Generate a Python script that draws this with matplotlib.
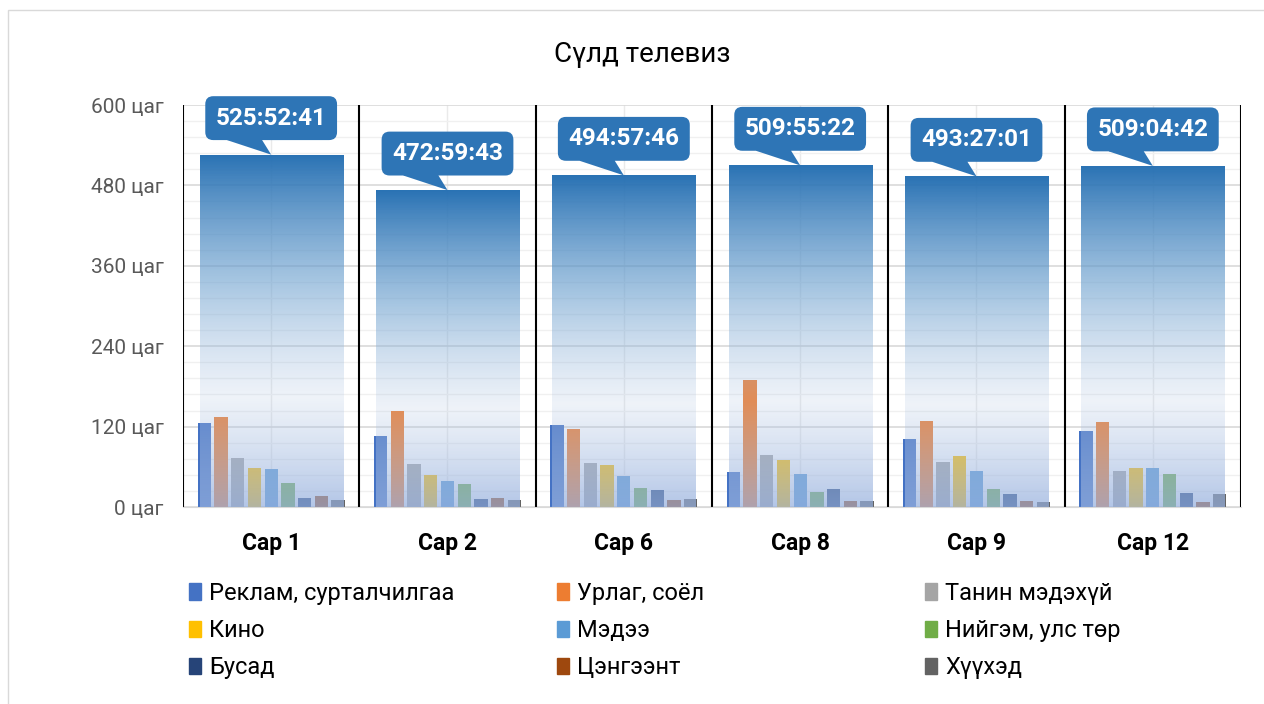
import matplotlib.pyplot as plt
import matplotlib.patches as mpatches
import matplotlib.transforms as mtransforms
import numpy as np

plt.rcParams['font.family'] = ['Roboto', 'DejaVu Sans']

months = ['Сар 1', 'Сар 2', 'Сар 6', 'Сар 8', 'Сар 9', 'Сар 12']
total_labels = ['525:52:41', '472:59:43', '494:57:46', '509:55:22', '493:27:01', '509:04:42']

series_names = ['Реклам, сурталчилгаа', 'Урлаг, соёл', 'Танин мэдэхүй', 'Кино', 'Мэдээ',
                'Нийгэм, улс төр', 'Бусад', 'Цэнгээнт', 'Хүүхэд']
series_colors = ['#4472C4', '#ED7D31', '#A5A5A5', '#FFC000', '#5B9BD5',
                 '#70AD47', '#264478', '#9E480E', '#636363']

# hours per genre (Сар 1, 2, 6, 8, 9, 12)
reklam = [125.5, 105.5, 122.5, 51.5, 101.5, 113.5]
urlag = [134.5, 143.5, 116.5, 190, 128.5, 127.5]
tanin = [72.5, 64.5, 65.5, 77, 67.5, 53]
kino = [57.5, 48, 62.5, 70.5, 76.5, 57.5]
medee = [57, 39.5, 46, 49.5, 53, 58.5]
niigem = [35.5, 34, 28.5, 22, 27.5, 49]
busad = [14, 12, 25, 27.5, 19.5, 21.5]
tsengeent = [16, 13.5, 11, 9, 9.5, 7.5]
khuukhed = [10.5, 10.5, 12, 9, 7, 19]
series = [reklam, urlag, tanin, kino, medee, niigem, busad, tsengeent, khuukhed]


def to_hours(s):
    h, m, sec = s.split(':')
    return int(h) + int(m) / 60 + int(sec) / 3600


totals = [to_hours(s) for s in total_labels]

W, H = 1264, 704
fig = plt.figure(figsize=(W / 100, H / 100), dpi=100)
fig.patches.append(mpatches.Rectangle((8 / W, -0.05), 1.1, 1 - 10 / H + 0.05, transform=fig.transFigure,
                                      fill=False, ec='#D9D9D9', lw=1))
ax = fig.add_axes([183 / W, 1 - 507 / H, (1241 - 183) / W, (507 - 105) / H])

x = np.arange(len(months))
slot = 0.0947
for k, vals in enumerate(series):
    ax.bar(x + (k - 4) * slot, vals, width=0.0755, color=series_colors[k], zorder=2)

# gradient overlay for the totals
stops = np.array([
    [0.00, 35, 110, 178, 0.97],
    [0.36, 112, 163, 208, 0.62],
    [0.69, 180, 200, 228, 0.22],
    [1.00, 150, 176, 222, 0.72],
])
f = np.linspace(0, 1, 256)
grad = np.zeros((256, 1, 4))
for c in range(4):
    grad[:, 0, c] = np.interp(f, stops[:, 0], stops[:, c + 1])
grad[:, :, :3] /= 255

big = ax.bar(x, totals, width=0.811, color='none', zorder=3)
for rect in big:
    x0, w, h = rect.get_x(), rect.get_width(), rect.get_height()
    im = ax.imshow(grad, extent=(x0, x0 + w, 0, h), aspect='auto', zorder=3, interpolation='bilinear')
    im.set_clip_path(rect)

# callouts
for i, (t, lbl) in enumerate(zip(totals, total_labels)):
    tr = fig.dpi_scale_trans + mtransforms.ScaledTranslation(i, t, ax.transData)
    ax.add_patch(mpatches.Polygon([(0, 0), (-0.09, 0.145), (-0.09, 0.25), (-0.44, 0.25), (-0.44, 0.145)],
                                  closed=True, transform=tr, fc='#2E75B6', ec='none', zorder=5, clip_on=False))
    ax.annotate(lbl, xy=(i, t), xytext=(0, 26.3), textcoords='offset points', ha='center', va='center',
                color='white', fontsize=17.5, fontweight='bold', zorder=6, annotation_clip=False,
                bbox=dict(boxstyle='round,pad=0.43,rounding_size=0.33', fc='#2E75B6', ec='none'))

ax.set_xlim(-0.5, len(months) - 0.5)
ax.set_ylim(0, 600)
ax.set_aspect('auto')

ax.set_xticks(x)
ax.set_xticklabels(months, fontsize=16.5, fontweight='bold', color='black')
ax.set_yticks(np.arange(0, 601, 120))
ax.set_yticklabels([f'{v} цаг' for v in range(0, 601, 120)], fontsize=15, color='#595959')
ax.set_yticks(np.arange(0, 601, 24), minor=True)
ax.tick_params(which='both', length=0)
ax.tick_params(axis='x', pad=18)
ax.tick_params(axis='y', pad=14)

ax.set_axisbelow(True)
ax.yaxis.grid(True, which='major', color='#D9D9D9', lw=1.2)
ax.yaxis.grid(True, which='minor', color='#F0F0F0', lw=1.0)
ax.xaxis.grid(True, which='major', color='#EAEAEA', lw=1.0)
for b in np.arange(-0.5, len(months)):
    ax.axvline(b, color='black', lw=1.5, zorder=1)
for s in ['left', 'right', 'top']:
    ax.spines[s].set_visible(False)
ax.spines['bottom'].set_color('#D9D9D9')

fig.text(642 / W, 1 - 62 / H, 'Сүлд телевиз', ha='center', va='baseline', fontsize=20, color='black')

col_x = [189, 557, 925]
for c in range(3):
    idx = [c, c + 3, c + 6]
    handles = [mpatches.Patch(color=series_colors[k]) for k in idx]
    fig.legend(handles, [series_names[k] for k in idx], loc='upper left',
               bbox_to_anchor=(col_x[c] / W, 1 - 582 / H), frameon=False, fontsize=17,
               handlelength=0.5, handleheight=0.7, handletextpad=0.35, labelspacing=0.6,
               borderpad=0, borderaxespad=0)

fig.savefig('out.png', dpi=100)
